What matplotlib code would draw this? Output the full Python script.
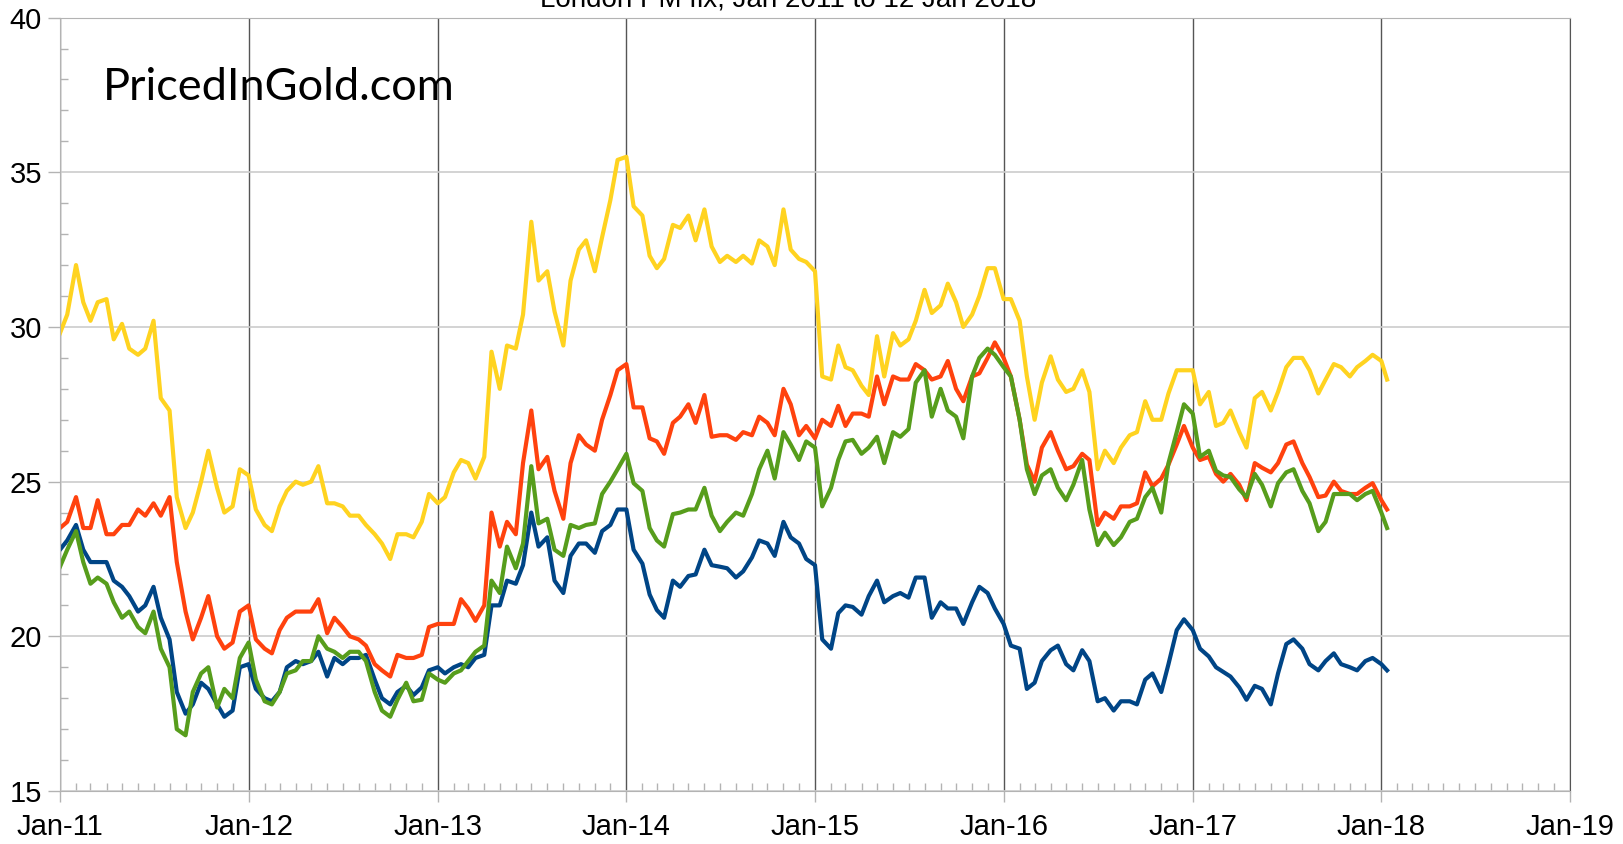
import matplotlib
matplotlib.use('Agg')
import matplotlib.pyplot as plt
import matplotlib.dates as mdates
from matplotlib.ticker import MultipleLocator
import pandas as pd

# semi-monthly sample dates (1st and 15th), Jan 2011 .. 12 Jan 2018
dates = [f'{y}-{m:02d}-{d:02d}' for y in range(2011, 2018) for m in range(1, 13) for d in (1, 15)]
dates += ['2018-01-01', '2018-01-12']

blue = [
    22.8, 23.1, 23.6, 22.8, 22.4, 22.4, 22.4, 21.8, 21.6, 21.3, 20.8, 21.0, 21.6, 20.6, 19.9, 18.2, 17.5, 17.8, 18.5, 18.3, 17.8, 17.4, 17.6, 19.0,
    19.1, 18.3, 18.0, 17.9, 18.2, 19.0, 19.2, 19.1, 19.2, 19.5, 18.7, 19.3, 19.1, 19.3, 19.3, 19.4, 18.6, 18.0, 17.8, 18.2, 18.4, 18.1, 18.35, 18.9,
    19.0, 18.8, 19.0, 19.1, 19.0, 19.3, 19.4, 21.0, 21.0, 21.8, 21.7, 22.3, 24.0, 22.9, 23.2, 21.8, 21.4, 22.6, 23.0, 23.0, 22.7, 23.4, 23.6, 24.1,
    24.1, 22.8, 22.35, 21.35, 20.85, 20.6, 21.8, 21.6, 21.95, 22.0, 22.8, 22.3, 22.25, 22.2, 21.9, 22.1, 22.55, 23.1, 23.0, 22.6, 23.7, 23.2, 23.0, 22.5,
    22.3, 19.9, 19.6, 20.75, 21.0, 20.95, 20.7, 21.3, 21.8, 21.1, 21.3, 21.4, 21.25, 21.9, 21.9, 20.6, 21.1, 20.9, 20.9, 20.4, 21.1, 21.6, 21.4, 20.9,
    20.4, 19.7, 19.6, 18.3, 18.5, 19.2, 19.55, 19.7, 19.1, 18.9, 19.55, 19.2, 17.9, 18.0, 17.6, 17.9, 17.9, 17.8, 18.6, 18.8, 18.2, 19.1, 20.2, 20.55,
    20.2, 19.6, 19.35, 19.0, 18.85, 18.7, 18.35, 17.95, 18.4, 18.3, 17.8, 18.8, 19.75, 19.9, 19.6, 19.1, 18.9, 19.2, 19.45, 19.1, 19.0, 18.9, 19.2, 19.3,
    19.1, 18.9,
]

orange = [
    23.5, 23.7, 24.5, 23.5, 23.5, 24.4, 23.3, 23.3, 23.6, 23.6, 24.1, 23.9, 24.3, 23.9, 24.5, 22.4, 20.8, 19.9, 20.6, 21.3, 20.0, 19.6, 19.8, 20.8,
    21.0, 19.9, 19.6, 19.45, 20.2, 20.6, 20.8, 20.8, 20.8, 21.2, 20.1, 20.6, 20.3, 20.0, 19.9, 19.7, 19.1, 18.9, 18.7, 19.4, 19.3, 19.3, 19.4, 20.3,
    20.4, 20.4, 20.4, 21.2, 20.9, 20.5, 21.0, 24.0, 22.9, 23.7, 23.3, 25.6, 27.3, 25.4, 25.8, 24.7, 23.8, 25.6, 26.5, 26.2, 26.0, 27.0, 27.8, 28.6,
    28.8, 27.4, 27.4, 26.4, 26.3, 25.9, 26.9, 27.1, 27.5, 26.9, 27.8, 26.45, 26.5, 26.5, 26.35, 26.6, 26.5, 27.1, 26.9, 26.5, 28.0, 27.5, 26.5, 26.8,
    26.4, 27.0, 26.8, 27.45, 26.8, 27.2, 27.2, 27.1, 28.4, 27.5, 28.4, 28.3, 28.3, 28.8, 28.6, 28.3, 28.4, 28.9, 28.0, 27.6, 28.4, 28.5, 29.0, 29.5,
    29.0, 28.4, 27.0, 25.55, 25.0, 26.1, 26.6, 26.0, 25.4, 25.5, 25.9, 25.7, 23.6, 24.0, 23.8, 24.2, 24.2, 24.3, 25.3, 24.85, 25.1, 25.55, 26.2, 26.8,
    26.1, 25.7, 25.8, 25.25, 25.0, 25.25, 24.9, 24.4, 25.6, 25.45, 25.3, 25.6, 26.2, 26.3, 25.6, 25.15, 24.5, 24.55, 25.0, 24.7, 24.6, 24.6, 24.8, 24.95,
    24.4, 24.1,
]

yellow = [
    29.8, 30.4, 32.0, 30.8, 30.2, 30.8, 30.9, 29.6, 30.1, 29.3, 29.1, 29.3, 30.2, 27.7, 27.3, 24.5, 23.5, 24.0, 25.0, 26.0, 24.8, 24.0, 24.2, 25.4,
    25.2, 24.1, 23.6, 23.4, 24.2, 24.7, 25.0, 24.9, 25.0, 25.5, 24.3, 24.3, 24.2, 23.9, 23.9, 23.6, 23.3, 23.0, 22.5, 23.3, 23.3, 23.2, 23.7, 24.6,
    24.3, 24.5, 25.3, 25.7, 25.6, 25.1, 25.8, 29.2, 28.0, 29.4, 29.3, 30.4, 33.4, 31.5, 31.8, 30.5, 29.4, 31.5, 32.5, 32.8, 31.8, 32.9, 34.1, 35.4,
    35.5, 33.9, 33.6, 32.3, 31.9, 32.2, 33.3, 33.2, 33.6, 32.8, 33.8, 32.6, 32.1, 32.3, 32.1, 32.3, 32.05, 32.8, 32.6, 32.0, 33.8, 32.5, 32.2, 32.1,
    31.8, 28.4, 28.3, 29.4, 28.7, 28.6, 28.1, 27.8, 29.7, 28.4, 29.8, 29.4, 29.6, 30.2, 31.2, 30.45, 30.7, 31.4, 30.8, 30.0, 30.4, 31.0, 31.9, 31.9,
    30.9, 30.9, 30.2, 28.4, 27.0, 28.2, 29.05, 28.3, 27.9, 28.0, 28.6, 27.9, 25.4, 26.0, 25.6, 26.1, 26.5, 26.6, 27.6, 27.0, 27.0, 27.85, 28.6, 28.6,
    28.6, 27.5, 27.9, 26.8, 26.9, 27.3, 26.6, 26.1, 27.7, 27.9, 27.3, 27.9, 28.7, 29.0, 29.0, 28.6, 27.85, 28.3, 28.8, 28.7, 28.4, 28.7, 28.9, 29.1,
    28.9, 28.3,
]

green = [
    22.25, 22.8, 23.4, 22.4, 21.7, 21.9, 21.7, 21.1, 20.6, 20.8, 20.3, 20.1, 20.8, 19.6, 19.0, 17.0, 16.8, 18.2, 18.8, 19.0, 17.7, 18.3, 18.0, 19.3,
    19.8, 18.6, 17.9, 17.8, 18.2, 18.8, 18.9, 19.2, 19.2, 20.0, 19.6, 19.5, 19.3, 19.5, 19.5, 19.2, 18.2, 17.6, 17.4, 17.95, 18.5, 17.9, 17.95, 18.8,
    18.6, 18.5, 18.8, 18.9, 19.2, 19.5, 19.7, 21.8, 21.4, 22.9, 22.2, 23.0, 25.5, 23.65, 23.8, 22.8, 22.6, 23.6, 23.5, 23.6, 23.65, 24.6, 25.0, 25.4,
    25.9, 24.95, 24.7, 23.5, 23.1, 22.9, 23.95, 24.0, 24.1, 24.1, 24.8, 23.9, 23.4, 23.7, 24.0, 23.9, 24.6, 25.4, 26.0, 25.1, 26.6, 26.2, 25.7, 26.3,
    26.1, 24.2, 24.8, 25.7, 26.3, 26.35, 25.9, 26.1, 26.45, 25.6, 26.6, 26.45, 26.7, 28.2, 28.6, 27.1, 28.0, 27.3, 27.1, 26.4, 28.4, 29.0, 29.3, 29.1,
    28.7, 28.4, 27.0, 25.4, 24.6, 25.2, 25.4, 24.8, 24.4, 24.9, 25.7, 24.1, 22.95, 23.35, 22.95, 23.2, 23.7, 23.8, 24.5, 24.8, 24.0, 25.6, 26.6, 27.5,
    27.2, 25.8, 26.0, 25.35, 25.2, 25.15, 24.75, 24.5, 25.25, 24.9, 24.2, 24.95, 25.3, 25.4, 24.7, 24.3, 23.4, 23.7, 24.6, 24.6, 24.6, 24.4, 24.6, 24.7,
    24.0, 23.5,
]

title = 'London PM fix, Jan 2011 to 12 Jan 2018'
x = pd.to_datetime(dates)

plt.rcParams['font.family'] = ['Liberation Sans', 'DejaVu Sans']
fig = plt.figure(figsize=(16.23, 8.44), dpi=100)
ax = fig.add_axes([60 / 1623, 1 - 791 / 844, 1510 / 1623, 773.4 / 844])

# LibreOffice default palette, drawn in series order
ax.plot(x, blue, color='#004586', lw=3.0, solid_joinstyle='round')
ax.plot(x, orange, color='#ff420e', lw=3.0, solid_joinstyle='round')
ax.plot(x, yellow, color='#ffd320', lw=3.0, solid_joinstyle='round')
ax.plot(x, green, color='#579d1c', lw=3.0, solid_joinstyle='round')

ax.set_xlim(pd.Timestamp('2011-01-01'), pd.Timestamp('2019-01-01'))
ax.set_ylim(15, 40)

ax.xaxis.set_major_locator(mdates.YearLocator())
ax.xaxis.set_minor_locator(mdates.MonthLocator())
ax.xaxis.set_major_formatter(mdates.DateFormatter('%b-%y'))
ax.yaxis.set_major_locator(MultipleLocator(5))
ax.yaxis.set_minor_locator(MultipleLocator(1))

ax.grid(axis='y', which='major', color='#cccccc', lw=1.2)
ax.grid(axis='x', which='major', color='#555555', lw=1.0)
ax.set_axisbelow(True)

for side in ('left', 'bottom', 'top'):
    ax.spines[side].set_color('#b3b3b3')
ax.spines['right'].set_color('#555555')

ax.tick_params(axis='both', which='major', labelsize=21, color='#b3b3b3', width=1)
ax.tick_params(axis='x', which='major', length=8, pad=8, direction='out')
ax.tick_params(axis='y', which='major', length=9, pad=4, direction='out')
ax.tick_params(axis='both', which='minor', direction='in', length=6, color='#b3b3b3', width=1)

# title sits partly above the top edge, as in the source image
fig.text(788 / 1623, 1 - 7 / 844, title, ha='center', va='baseline', fontsize=20)

# watermark
fig.text(103 / 1623, 1 - 100 / 844, 'PricedInGold.com', fontsize=32.5,
         family=['Lato', 'DejaVu Sans'], color='black', va='baseline', ha='left')

fig.savefig('out.png', dpi=100)
